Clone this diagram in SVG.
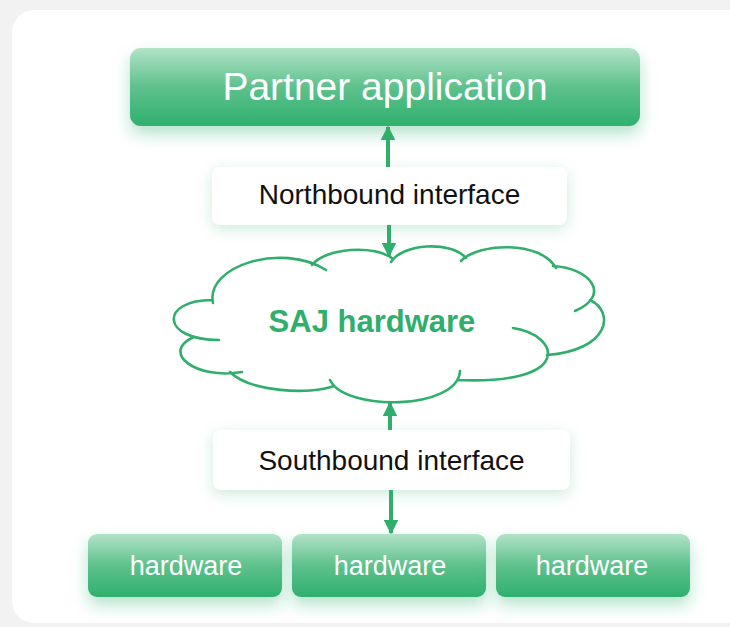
<svg xmlns="http://www.w3.org/2000/svg" width="730" height="627" viewBox="0 0 730 627">
  <defs>
    <linearGradient id="g" x1="0" y1="0" x2="0" y2="1">
      <stop offset="0" stop-color="#b2e3c8"/>
      <stop offset="0.5" stop-color="#5ec18c"/>
      <stop offset="1" stop-color="#2fb06e"/>
    </linearGradient>
    <filter id="glow" x="-20%" y="-40%" width="140%" height="200%">
      <feDropShadow dx="0" dy="8" stdDeviation="8" flood-color="#2fb06e" flood-opacity="0.35"/>
    </filter>
    <filter id="glowW" x="-20%" y="-50%" width="140%" height="200%">
      <feDropShadow dx="0" dy="4" stdDeviation="7" flood-color="#2fb06e" flood-opacity="0.25"/>
    </filter>
    <marker id="ah" viewBox="0 0 10 10" refX="9" refY="5" markerWidth="3.6" markerHeight="3.6" orient="auto-start-reverse" markerUnits="strokeWidth">
      <path d="M0,0 L10,5 L0,10 Z" fill="#2fae6c"/>
    </marker>
    <style>
      .green rect { fill: url(#g); filter: url(#glow); }
      .white rect { fill: #ffffff; filter: url(#glowW); }
      .lt { font-family: "Liberation Sans", Arial, sans-serif; fill: #ffffff; text-anchor: middle; }
      .dt { font-family: "Liberation Sans", Arial, sans-serif; fill: #111111; text-anchor: middle; font-size: 28px; }
      .conn { stroke: #2fae6c; stroke-width: 4; fill: none; marker-end: url(#ah); }
      .cloud { stroke: #2fae6c; stroke-width: 2.6; fill: none; stroke-linecap: round; }
    </style>
  </defs>

  <rect x="0" y="0" width="730" height="627" fill="#f2f2f2"/>
  <rect x="12" y="10" width="740" height="613" rx="22" fill="#ffffff"/>

  <g id="partner" class="green">
    <rect x="130" y="48" width="510" height="78" rx="11"/>
    <text class="lt" x="385" y="100" font-size="39">Partner application</text>
  </g>

  <g id="northbound" class="white">
    <rect x="212" y="167" width="355" height="58" rx="8"/>
    <text class="dt" x="389.5" y="204">Northbound interface</text>
  </g>

  <g id="saj">
    <path class="cloud" d="M213,303 C205,266 282,242 326,270
      M312,265 C325,248 375,244 393,259
      M391,262 C402,244 450,240 466,258
      M461,261 C478,243 540,240 556,268
      M553,266 C590,268 612,295 575,311
      M590,300 C615,312 610,350 547,355
      M513,328 C560,335 575,385 458,380
      M460,371 C458,410 345,412 330,380
      M230,372 C250,392 310,395 334,386
      M242,372 C195,380 160,352 194,337
      M219,340 C160,340 160,300 212,300"/>
    <text x="372" y="332" font-family="Liberation Sans, Arial, sans-serif" font-weight="bold" font-size="31" fill="#2fae6c" text-anchor="middle">SAJ hardware</text>
  </g>

  <g id="southbound" class="white">
    <rect x="213" y="430" width="357" height="60" rx="8"/>
    <text class="dt" x="391.5" y="470">Southbound interface</text>
  </g>

  <g id="hw1" class="green">
    <rect x="88" y="534" width="194" height="63" rx="9"/>
    <text class="lt" x="186" y="575" font-size="27">hardware</text>
  </g>
  <g id="hw2" class="green">
    <rect x="292" y="534" width="194" height="63" rx="9"/>
    <text class="lt" x="390" y="575" font-size="27">hardware</text>
  </g>
  <g id="hw3" class="green">
    <rect x="496" y="534" width="194" height="63" rx="9"/>
    <text class="lt" x="592" y="575" font-size="27">hardware</text>
  </g>

  <g id="connectors">
    <line class="conn" x1="388" y1="167" x2="388" y2="127"/>
    <line class="conn" x1="389" y1="225" x2="389" y2="256"/>
    <line class="conn" x1="390" y1="430" x2="390" y2="403"/>
    <line class="conn" x1="391" y1="490" x2="391" y2="533"/>
  </g>
</svg>
